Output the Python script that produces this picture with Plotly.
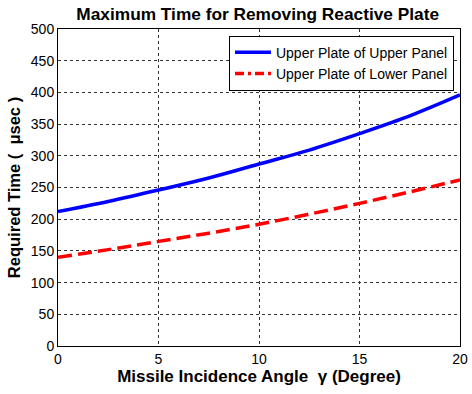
import plotly.graph_objects as go

angle = [0, 2.5, 5, 7.5, 10, 12.5, 15, 17.5, 20]
upper_panel = [212, 228, 246, 265, 287, 309, 335, 363, 396]
lower_panel = [140, 152, 165, 178, 192, 208, 225, 243, 262]
x_ticks = [0, 5, 10, 15, 20]
y_ticks = list(range(0, 501, 50))

font = "Liberation Sans, Arial, sans-serif"

fig = go.Figure()
fig.add_trace(go.Scatter(x=angle, y=upper_panel, mode="lines", name="Upper Plate of Upper Panel",
                         line=dict(color="#0000ff", width=3.5), line_shape="spline"))
fig.add_trace(go.Scatter(x=angle, y=lower_panel, mode="lines", name="Upper Plate of Lower Panel",
                         showlegend=False,
                         line=dict(color="#ff0000", width=3.5, dash="14px,6px"), line_shape="spline"))
fig.add_trace(go.Scatter(x=[None], y=[None], mode="lines", name="Upper Plate of Lower Panel",
                         line=dict(color="#ff0000", width=3.5, dash="9px,4px,3px,4px")))

fig.update_layout(
    width=472, height=394,
    margin=dict(l=58, r=12, t=29, b=48),
    paper_bgcolor="white", plot_bgcolor="white",
    font=dict(family=font, size=14, color="black"),
    title=dict(text="<b>Maximum Time for Removing Reactive Plate</b>", x=0.546, xanchor="center",
               xref="container", y=0.965, yanchor="middle", yref="container", font=dict(size=17.3)),
    xaxis=dict(range=[0, 20], tickvals=x_ticks, showgrid=True, griddash="dot", gridcolor="#333",
               gridwidth=1, showline=True, linecolor="black", linewidth=1, mirror=True,
               ticks="", zeroline=False, automargin=False,
               title=dict(text="<b>Missile Incidence Angle  γ (Degree)</b>", font=dict(size=17), standoff=2)),
    yaxis=dict(range=[0, 500], tickvals=y_ticks, showgrid=True, griddash="dot", gridcolor="#333",
               gridwidth=1, showline=True, linecolor="black", linewidth=1, mirror=True,
               ticks="", zeroline=False, automargin=False,
               title=dict(text="<b>Required Time (  μsec )</b>", font=dict(size=16.5), standoff=6)),
    legend=dict(x=0.985, y=0.979, xanchor="right", yanchor="top", bgcolor="white",
                bordercolor="black", borderwidth=1, font=dict(size=14),
                tracegroupgap=0, itemwidth=36),
    showlegend=True,
)
fig.write_html("out.html", config={"displayModeBar": False},
               post_script="document.body.style.margin='0px';")
